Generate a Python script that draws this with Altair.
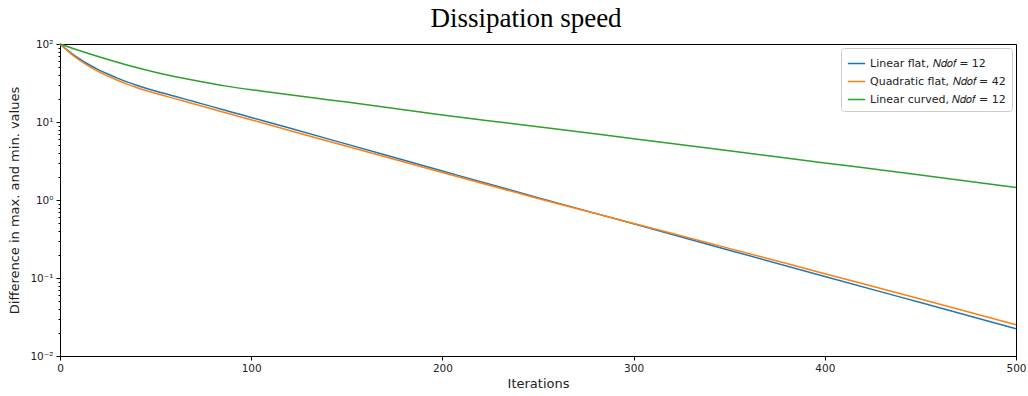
import altair as alt
import pandas as pd

series_names = [
    "Linear flat, 𝑁𝑑𝑜𝑓 = 12",
    "Quadratic flat, 𝑁𝑑𝑜𝑓 = 42",
    "Linear curved, 𝑁𝑑𝑜𝑓 = 12",
]
series_colors = ["#1f77b4", "#ff7f0e", "#2ca02c"]

iters_flat = [0, 5, 10, 15, 20, 25, 30, 35, 40, 45, 50, 60, 70, 80, 90, 100,
              120, 150, 200, 250, 300, 350, 400, 450, 500]
linear_flat = [100, 79.43, 64.86, 54.58, 46.99, 41.21, 36.56, 32.73, 29.65, 27.10,
               24.95, 21.38, 18.28, 15.63, 13.37, 11.43, 8.356, 5.200, 2.355,
               1.072, 0.4955, 0.2275, 0.1047, 0.0484, 0.0224]
quadratic_flat = [100, 77.62, 62.37, 52.12, 44.46, 38.73, 34.28, 30.62, 27.73, 25.35,
                  23.33, 19.95, 17.06, 14.59, 12.47, 10.67, 7.798, 4.875, 2.249,
                  1.047, 0.501, 0.2399, 0.1135, 0.0537, 0.0251]

iters_curved = [0, 8, 17, 35, 52, 70, 87, 105, 120, 136, 150, 200, 225,
                250, 300, 350, 400, 450, 500]
linear_curved = [100, 85.7, 72.78, 53.83, 42.27, 34.28, 28.84, 24.95, 22.28, 19.86,
                 17.99, 12.30, 10.30, 8.71, 6.10, 4.27, 2.99, 2.09, 1.445]

x_ticks = [0, 100, 200, 300, 400, 500]
y_major = [0.01, 0.1, 1, 10, 100]
y_minor = [m * d for d in [0.01, 0.1, 1, 10] for m in range(2, 10)]

rows = []
for x, y in zip(iters_flat, linear_flat):
    rows.append({"it": x, "val": y, "series": series_names[0]})
for x, y in zip(iters_flat, quadratic_flat):
    rows.append({"it": x, "val": y, "series": series_names[1]})
for x, y in zip(iters_curved, linear_curved):
    rows.append({"it": x, "val": y, "series": series_names[2]})
df = pd.DataFrame(rows)

label_expr = ("datum.value == 100 ? '10²' : datum.value == 10 ? '10¹' : "
              "datum.value == 1 ? '10⁰' : datum.value == 0.1 ? '10⁻¹' : '10⁻²'")

xaxis = alt.Axis(values=x_ticks, title="Iterations", grid=False,
                 labelFontSize=10.5, titleFontSize=13, tickSize=4,
                 labelPadding=3, titlePadding=4, domainColor="black",
                 tickColor="black", labelColor="#222", titleColor="#222",
                 labelFont="DejaVu Sans", titleFont="DejaVu Sans",
                 titleFontWeight="normal", labelFlush=False, labelOverlap=False)
xscale = alt.Scale(domain=[0, 500], nice=False, zero=False)

lines = alt.Chart(df).mark_line(strokeWidth=1.5, interpolate="monotone").encode(
    x=alt.X("it:Q", scale=xscale, axis=xaxis),
    y=alt.Y("val:Q", scale=alt.Scale(type="log", domain=[0.01, 100], nice=False),
            axis=alt.Axis(values=y_major, labelExpr=label_expr,
                          title="Difference in max. and min. values", grid=False,
                          labelFontSize=10.5, titleFontSize=13, tickSize=4,
                          labelPadding=3, titlePadding=8, domainColor="black",
                          tickColor="black", labelColor="#222", titleColor="#222",
                          labelFont="DejaVu Sans", titleFont="DejaVu Sans",
                          titleFontWeight="normal", labelFlush=False,
                          labelOverlap=False)),
    color=alt.Color("series:N",
                    scale=alt.Scale(domain=series_names, range=series_colors),
                    legend=alt.Legend(title=None, orient="top-right", offset=4,
                                      symbolType="stroke", symbolStrokeWidth=1.5,
                                      symbolSize=300, labelFontSize=11,
                                      labelFont="DejaVu Sans", labelColor="#222",
                                      rowPadding=3, padding=6,
                                      strokeColor="#cccccc", fillColor="white",
                                      cornerRadius=3)),
    order=alt.Order("it:Q"),
)

minor = alt.Chart(df).mark_line(strokeOpacity=0).encode(
    x=alt.X("it:Q", scale=xscale, axis=xaxis),
    y=alt.Y("val:Q", scale=alt.Scale(type="log", domain=[0.01, 100], nice=False),
            axis=alt.Axis(values=y_minor, orient="left", labels=False, title="",
                          grid=False, domain=False, tickSize=2, tickColor="black")),
)

chart = alt.layer(lines, minor).resolve_scale(y="independent").properties(
    width=956,
    height=312,
    autosize=alt.AutoSizeParams(type="none"),
    padding={"left": 60, "top": 44, "right": 12, "bottom": 40},
    title=alt.Title("Dissipation speed", font="Liberation Serif", fontSize=27,
                    fontWeight="normal", color="black", anchor="middle", offset=6,
                    dx=-12),
).configure(background="white").configure_view(stroke="black", strokeWidth=1)

chart.save("out.html", embed_options={"renderer": "svg", "actions": False})
